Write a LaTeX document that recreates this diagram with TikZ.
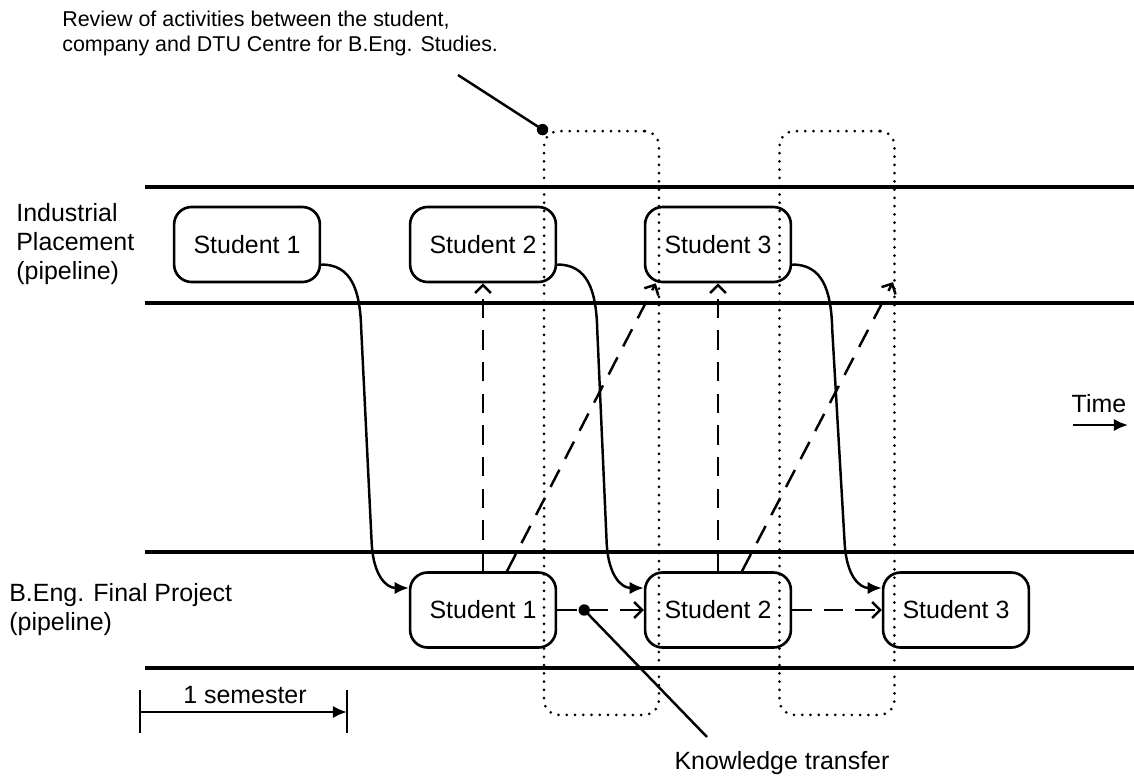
\documentclass[tikz,border=0pt]{standalone}
\usepackage{fontspec}
\setmainfont{Liberation Sans}
\usetikzlibrary{arrows.meta,calc}
\begin{document}
\begin{tikzpicture}[x=0.02cm,y=-0.02cm,
  lbl/.style={font=\fontsize{14.2}{16.5}\selectfont, inner sep=0pt},
  smalllbl/.style={font=\fontsize{12.2}{14.2}\selectfont, inner sep=0pt},
  student/.style={draw, line width=1.5pt, rounded corners=10pt, minimum width=83pt, minimum height=42.7pt, inner sep=0pt, font=\fontsize{14.2}{16.5}\selectfont},
  lane/.style={line width=2.8pt},
  reviewbox/.style={draw, line width=1.7pt, dash pattern=on 0pt off 4.7pt, line cap=round, rounded corners=8.5pt, minimum width=65.4pt, minimum height=332.3pt, inner sep=0pt},
  flow/.style={line width=1.4pt, -{Latex[length=8pt,width=7pt]}},
  dasharrow/.style={line width=1.4pt, dash pattern=on 11pt off 7pt, -{Straight Barb[length=4.5pt,width=9pt]}},
  dotmark/.style={circle, fill, inner sep=0pt, minimum size=6.5pt},
  leader/.style={line width=1.4pt},
  arr/.style={line width=1.4pt, -{Latex[length=8pt,width=7pt]}},
  tick/.style={line width=1.7pt}
]
\useasboundingbox (0,0) rectangle (1134,782);

% review text
\node[smalllbl, anchor=west, align=left] (rev) at (62,33) {Review of activities between the student,\\company and DTU Centre for B.Eng. Studies.};

% lanes
\draw[lane] (145,187) -- (1134,187);
\draw[lane] (145,303) -- (1134,303);
\draw[lane] (145,552) -- (1134,552);
\draw[lane] (145,668) -- (1134,668);

% lane labels
\node[lbl, anchor=west, align=left] (ip) at (16,244) {Industrial\\Placement\\(pipeline)};
\node[lbl, anchor=west, align=left] (fp) at (9,610) {B.Eng. Final Project\\(pipeline)};

% review boxes
\node[reviewbox] (r1) at (601.5,423) {};
\node[reviewbox] (r2) at (837,423) {};
\node[dotmark] (rd) at (r1.north west) {};
\coordinate (rl) at (458,75);
\draw[leader] (rl) -- (rd.center);

% students
\node[student] (t1) at (247,244.5) {Student 1};
\node[student] (t2) at (483,244.5) {Student 2};
\node[student] (t3) at (718,244.5) {Student 3};
\node[student] (b1) at (483,610) {Student 1};
\node[student] (b2) at (718,610) {Student 2};
\node[student] (b3) at (956,610) {Student 3};

% curved flows
\foreach \s/\t in {t1/b1, t2/b2, t3/b3}{
  \coordinate (a) at ($(\s.east)+(0,20)$);
  \coordinate (e) at ($(\t.west)+(0,-22)$);
  \draw[flow] (a) .. controls ($(a)+(30,0)$) and ($(a)+(39,25)$) .. ($(a)+(40,65)$)
     -- ($(e)+(-37,-43)$) .. controls ($(e)+(-35,-13)$) and ($(e)+(-23,0)$) .. (e);
}

% dashed knowledge arrows
\draw[dasharrow] (b1.north) -- (t2.south);
\draw[dasharrow] ($(b1.north)+(24,0)$) -- ($(t3.south west)+(12,0)$);
\draw[dasharrow] (b2.north) -- (t3.south);
\coordinate (d2) at ($(b2.north)+(175,-289)$);
\draw[dasharrow] ($(b2.north)+(24,0)$) -- (d2);
\draw[dasharrow] (b1.east) -- (b2.west);
\draw[dasharrow] (b2.east) -- (b3.west);

% knowledge transfer
\node[dotmark] (kd) at ($(b1.east)+(27,0)$) {};
\coordinate (kl) at (707,737);
\draw[leader] (kd.center) -- (kl);
\node[lbl] (kt) at (782,763) {Knowledge transfer};

% time
\node[lbl] (time) at (1099,404) {Time};
\coordinate (ts) at (1073,425);
\coordinate (te) at (1128,425);
\draw[arr] (ts) -- (te);

% semester
\coordinate (s1a) at (140,690);
\coordinate (s1b) at (140,733);
\coordinate (s2a) at (347,690);
\coordinate (s2b) at (347,733);
\draw[tick] (s1a) -- (s1b);
\draw[tick] (s2a) -- (s2b);
\coordinate (sl) at (140,712);
\coordinate (sr) at (347,712);
\draw[arr] (sl) -- (sr);
\node[lbl] (sem) at (245,695) {1 semester};
\end{tikzpicture}
\end{document}
